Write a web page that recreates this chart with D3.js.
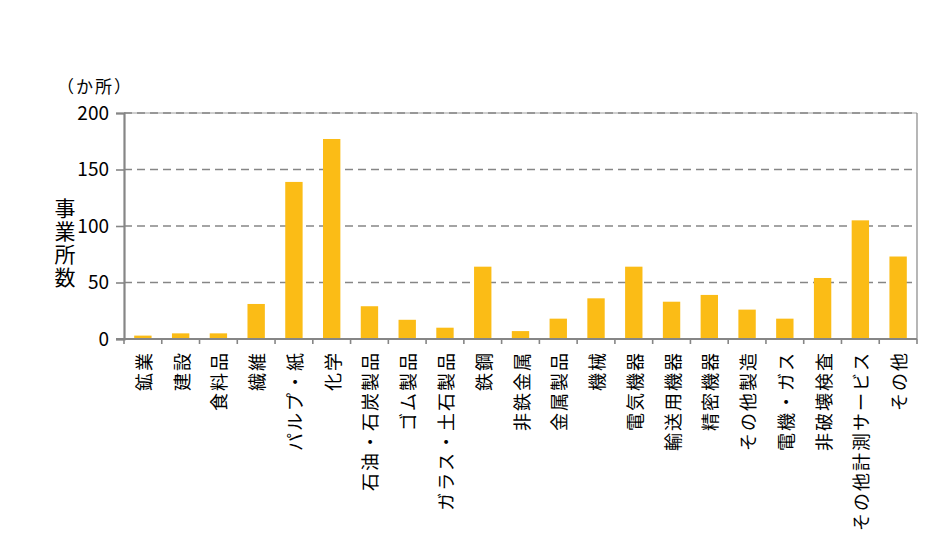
<!DOCTYPE html>
<html>
<head>
<meta charset="utf-8">
<script src="https://cdn.jsdelivr.net/npm/d3@7"></script>
<style>
  html, body { margin: 0; padding: 0; background: #fff; }
  svg { display: block; }
  text { font-family: "Noto Sans CJK JP", "Noto Sans", sans-serif; fill: #000; }
</style>
</head>
<body>
<svg id="chart" width="942" height="543"></svg>
<script>
const categories = ["鉱業","建設","食料品","繊維","パルプ・紙","化学","石油・石炭製品","ゴム製品","ガラス・土石製品","鉄鋼","非鉄金属","金属製品","機械","電気機器","輸送用機器","精密機器","その他製造","電機・ガス","非破壊検査","その他計測サービス","その他"];
const values = [3,5,5,31,139,177,29,17,10,64,7,18,36,64,33,39,26,18,54,105,73];
const yTicks = [0,50,100,150,200];
const yUnit = "（か所）";
const yTitle = "事業所数";

const svg = d3.select("#chart");
const margin = {left: 124, right: 25, top: 113, bottom: 204};
const W = 942, H = 543;
const x = d3.scaleBand().domain(categories).range([margin.left, W - margin.right]).paddingInner(0.54).paddingOuter(0.27);
const y = d3.scaleLinear().domain([0, 200]).range([H - margin.bottom, margin.top]);
const axisColor = "#868686";

// gridlines
svg.append("g").selectAll("line").data(yTicks.filter(d => d > 0)).join("line")
  .attr("x1", margin.left).attr("x2", W - margin.right)
  .attr("y1", d => y(d)).attr("y2", d => y(d))
  .attr("stroke", axisColor).attr("stroke-width", 1.6).attr("stroke-dasharray", "8,5");

// right and top border
svg.append("line").attr("x1", W - margin.right).attr("x2", W - margin.right)
  .attr("y1", y(200)).attr("y2", y(0)).attr("stroke", axisColor).attr("stroke-width", 1.2);
svg.append("line").attr("x1", margin.left).attr("x2", W - margin.right)
  .attr("y1", y(200)).attr("y2", y(200)).attr("stroke", axisColor).attr("stroke-width", 0.8);

// bars
svg.append("g").selectAll("rect").data(values).join("rect")
  .attr("x", (d, i) => x(categories[i]))
  .attr("width", x.bandwidth())
  .attr("y", d => y(d))
  .attr("height", d => y(0) - y(d))
  .attr("fill", "#FBBC16");

// y axis
const yAxis = svg.append("g").attr("transform", `translate(${margin.left},0)`)
  .call(d3.axisLeft(y).tickValues(yTicks).tickSize(8).tickPadding(7));
yAxis.select(".domain").attr("stroke", axisColor).attr("stroke-width", 2.2);
yAxis.selectAll(".tick line").attr("stroke", axisColor).attr("stroke-width", 1.6);
yAxis.selectAll(".tick text").style("font-size", "19px").style("font-family", "'Noto Sans CJK JP', sans-serif").attr("fill", "#000");

// x axis
const xAxis = svg.append("g").attr("transform", `translate(0,${y(0)})`);
xAxis.append("line").attr("x1", margin.left - 8).attr("x2", W - margin.right)
  .attr("y1", 0).attr("y2", 0).attr("stroke", axisColor).attr("stroke-width", 2.2);
const bounds = d3.range(categories.length + 1).map(i => margin.left + (W - margin.left - margin.right) * i / categories.length);
xAxis.selectAll("line.tk").data(bounds).join("line").attr("class", "tk")
  .attr("x1", d => d).attr("x2", d => d).attr("y1", 0).attr("y2", 5)
  .attr("stroke", axisColor).attr("stroke-width", 1.6);

// x labels (rotated -90, read bottom to top)
const labelTop = y(0) + 12;
svg.append("g").selectAll("text").data(categories).join("text")
  .attr("transform", d => `translate(${x(d) + x.bandwidth() / 2},${labelTop}) rotate(-90)`)
  .attr("text-anchor", "end")
  .attr("dominant-baseline", "central")
  .style("font-size", "18px")
  .style("letter-spacing", "2px")
  .text(d => d);

// unit label
svg.append("text").attr("x", 95).attr("y", 93).attr("text-anchor", "middle")
  .style("font-size", "17px").style("letter-spacing", "2px").text(yUnit);

// y title (vertical, upright)
svg.append("text").attr("x", 65).attr("y", 198)
  .style("writing-mode", "vertical-rl")
  .style("font-size", "21px")
  .style("letter-spacing", "2px")
  .text(yTitle);
</script>
</body>
</html>
